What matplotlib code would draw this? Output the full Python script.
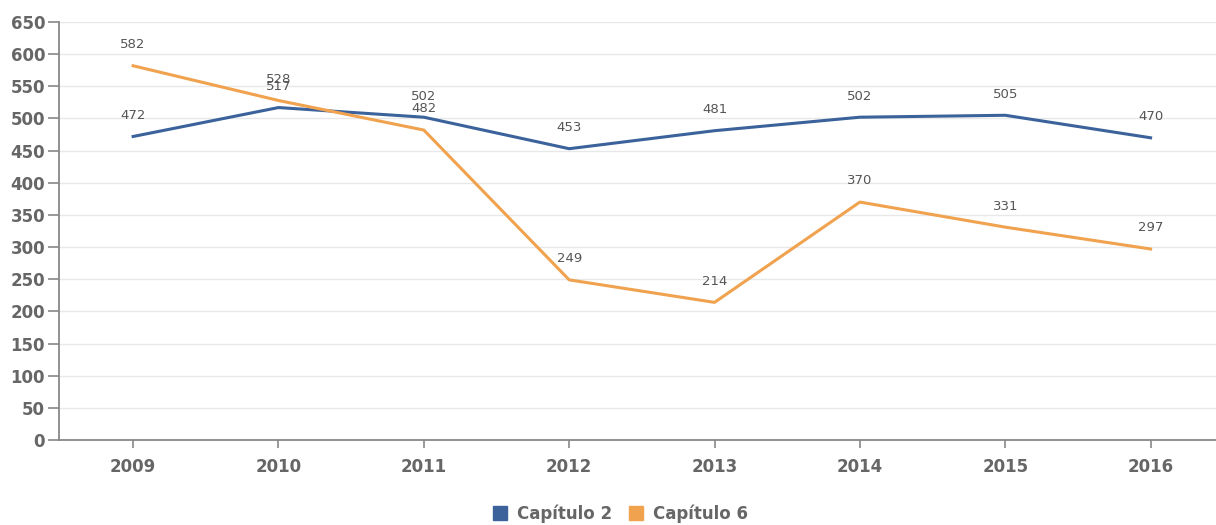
import matplotlib
matplotlib.use("Agg")
import matplotlib.pyplot as plt
from matplotlib.patches import Patch
import numpy as np

# Data
years = ["2009", "2010", "2011", "2012", "2013", "2014", "2015", "2016"]
capitulo2 = [472, 517, 502, 453, 481, 502, 505, 470]
capitulo6 = [582, 528, 482, 249, 214, 370, 331, 297]

blue = "#3b629b"
orange = "#f0a24f"
gray = "#666666"

fig = plt.figure(figsize=(12.16, 5.25), dpi=100)
ax = fig.add_axes([0.0485, 0.162, 0.9515, 0.796])

x = np.arange(len(years))
ax.plot(x, capitulo2, color=blue, lw=2.2, zorder=3)
ax.plot(x, capitulo6, color=orange, lw=2.2, zorder=3)

for xi, v in zip(x, capitulo2):
    ax.annotate(str(v), (xi, v), xytext=(0, 10.5), textcoords="offset points",
                ha="center", va="bottom", fontsize=9.5, color="#555555")
for xi, v in zip(x, capitulo6):
    ax.annotate(str(v), (xi, v), xytext=(0, 10.5), textcoords="offset points",
                ha="center", va="bottom", fontsize=9.5, color="#555555")

ax.set_xlim(-0.51, 7.45)
ax.set_ylim(0, 650)
ax.set_yticks(np.arange(0, 651, 50))
ax.set_xticks(x)
ax.set_xticklabels(years)

ax.grid(axis="y", color="#e8e8e8", lw=1)
ax.set_axisbelow(True)
for s in ["top", "right"]:
    ax.spines[s].set_visible(False)
for s in ["left", "bottom"]:
    ax.spines[s].set_color("#888888")
    ax.spines[s].set_linewidth(1.3)

ax.tick_params(axis="y", length=8, width=1.2, color="#888888", labelsize=12,
               labelcolor=gray, pad=2)
ax.tick_params(axis="x", length=6, width=1.2, color="#888888", labelsize=12,
               labelcolor=gray, pad=7)
for lab in ax.get_xticklabels() + ax.get_yticklabels():
    lab.set_fontweight("bold")

handles = [Patch(color=blue, label="Capítulo 2"), Patch(color=orange, label="Capítulo 6")]
fig.legend(handles=handles, loc="center", bbox_to_anchor=(0.51, 0.022), ncol=2,
           frameon=False, handlelength=0.85, handleheight=0.85, handletextpad=0.6,
           columnspacing=1.0, prop={"family": "DejaVu Sans", "weight": "bold", "size": 12},
           labelcolor=gray)

fig.savefig("out.png", dpi=100)
